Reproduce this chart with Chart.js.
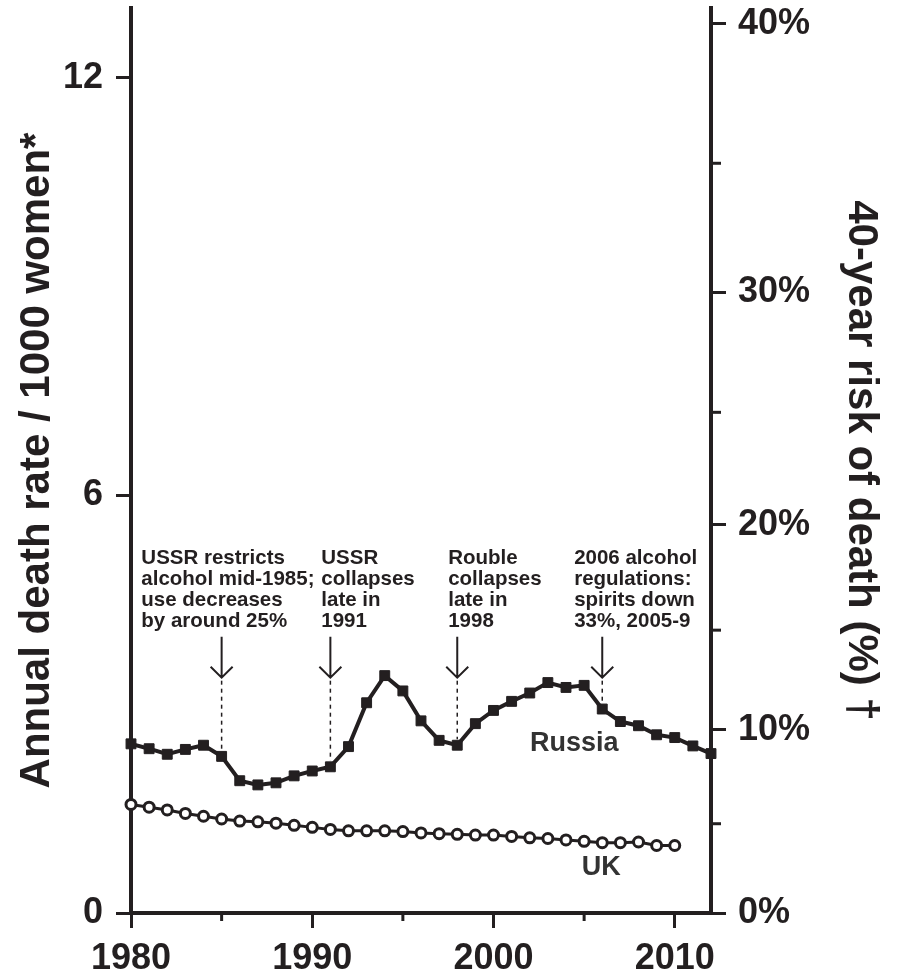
<!DOCTYPE html>
<html>
<head>
<meta charset="utf-8">
<script src="https://cdn.jsdelivr.net/npm/chart.js@4.4.0/dist/chart.umd.min.js"></script>
<style>
  html, body { margin: 0; padding: 0; background: #fff; }
  #wrap { width: 902px; height: 975px; }
</style>
</head>
<body>
<div id="wrap"><canvas id="chart" width="902" height="975"></canvas></div>
<script>
// annual death rate per 1000 women
const years = [1980, 1981, 1982, 1983, 1984, 1985, 1986, 1987, 1988, 1989,
  1990, 1991, 1992, 1993, 1994, 1995, 1996, 1997, 1998, 1999,
  2000, 2001, 2002, 2003, 2004, 2005, 2006, 2007, 2008, 2009,
  2010, 2011, 2012]
const russia = [2.43, 2.36, 2.28, 2.35, 2.41, 2.25, 1.90, 1.84, 1.87, 1.97,
  2.04, 2.10, 2.39, 3.02, 3.41, 3.19, 2.76, 2.48, 2.41, 2.72,
  2.91, 3.04, 3.16, 3.31, 3.24, 3.27, 2.93, 2.75, 2.69, 2.56,
  2.52, 2.40, 2.29]
const uk = [1.56, 1.52, 1.48, 1.43, 1.39, 1.35, 1.32, 1.31, 1.29, 1.26,
  1.23, 1.20, 1.18, 1.18, 1.18, 1.17, 1.15, 1.14, 1.13, 1.12,
  1.12, 1.10, 1.08, 1.07, 1.05, 1.03, 1.01, 1.01, 1.02, 0.97,
  0.97]

const rateTicks = [0, 6, 12]
const yearTicks = [1980, 1990, 2000, 2010]
const yearMinorTicks = [1985, 1995, 2005]
const riskTicks = [0, 10, 20, 30, 40]
const riskMinorTicks = [5, 15, 25, 35]

const eventYears = [1985, 1991, 1998, 2006]
const eventNotes = [
  ['USSR restricts', 'alcohol mid-1985;', 'use decreases', 'by around 25%'],
  ['USSR', 'collapses', 'late in', '1991'],
  ['Rouble', 'collapses', 'late in', '1998'],
  ['2006 alcohol', 'regulations:', 'spirits down', '33%, 2005-9'],
]

// layout bits (in axis units)
const noteX = [1980.57, 1990.5, 1997.5, 2004.45]
const noteTop = 5.09
const arrowTop = 3.97
const arrowTip = 3.38

const ink = '#231f20'
const fontFamily = '"Liberation Sans", Arial, sans-serif'

// 40-year risk (%) -> annual rate per 1000
const riskToRate = p => -1000 * Math.log(1 - p / 100) / 40

const annotations = {
  id: 'annotations',
  afterDraw(chart) {
    const ctx = chart.ctx
    const x = chart.scales.x
    const y = chart.scales.y
    const bottom = chart.chartArea.bottom
    const right = chart.chartArea.right
    ctx.save()
    ctx.strokeStyle = ink
    ctx.fillStyle = ink

    // minor ticks
    ctx.lineWidth = 3
    yearMinorTicks.forEach(yr => {
      const px = x.getPixelForValue(yr)
      ctx.beginPath()
      ctx.moveTo(px, bottom)
      ctx.lineTo(px, bottom + 8)
      ctx.stroke()
    })
    riskMinorTicks.forEach(p => {
      const py = y.getPixelForValue(riskToRate(p))
      ctx.beginPath()
      ctx.moveTo(right, py)
      ctx.lineTo(right + 10, py)
      ctx.stroke()
    })

    // event arrows + dashed drop lines
    eventYears.forEach((yr, i) => {
      const px = x.getPixelForValue(yr)
      const top = y.getPixelForValue(arrowTop)
      const tip = y.getPixelForValue(arrowTip)
      const pt = y.getPixelForValue(russia[years.indexOf(yr)])
      ctx.lineWidth = 2
      ctx.setLineDash([])
      ctx.beginPath()
      ctx.moveTo(px, top)
      ctx.lineTo(px, tip)
      ctx.moveTo(px - 11, tip - 11)
      ctx.lineTo(px, tip)
      ctx.lineTo(px + 11, tip - 11)
      ctx.stroke()

      ctx.lineWidth = 1.5
      ctx.setLineDash([4, 4])
      ctx.beginPath()
      ctx.moveTo(px, tip + 3)
      ctx.lineTo(px, pt - 6)
      ctx.stroke()
      ctx.setLineDash([])

      ctx.font = 'bold 20.5px ' + fontFamily
      ctx.textAlign = 'left'
      ctx.textBaseline = 'middle'
      const tx = x.getPixelForValue(noteX[i])
      const ty = y.getPixelForValue(noteTop)
      eventNotes[i].forEach((line, j) => {
        ctx.fillText(line, tx, ty + j * 21)
      })
    })

    // series labels
    ctx.font = 'bold 27px ' + fontFamily
    ctx.textAlign = 'center'
    ctx.textBaseline = 'middle'
    ctx.fillStyle = '#333'
    ctx.fillText('Russia', x.getPixelForValue(2004.45), y.getPixelForValue(2.44))
    ctx.fillText('UK', x.getPixelForValue(2005.95), y.getPixelForValue(0.65))
    ctx.restore()
  },
}

const tickFont = { family: fontFamily, size: 36, weight: 'bold' }
const titleFont = { family: fontFamily, size: 42, weight: 'bold' }

// fixed box sizes so the plot area sits where the original has it
const fixBox = (w, h) => scale => {
  if (w) scale.width = w
  if (h) scale.height = h
  scale.paddingTop = 0
  scale.paddingBottom = 0
}

new Chart(document.getElementById('chart'), {
  type: 'line',
  data: {
    datasets: [
      {
        label: 'Russia',
        data: russia.map((v, i) => ({ x: years[i], y: v })),
        borderColor: ink,
        backgroundColor: ink,
        borderWidth: 4,
        pointStyle: 'rect',
        pointRadius: 7,
        pointBorderWidth: 1,
        tension: 0,
        clip: false,
      },
      {
        label: 'UK',
        data: uk.map((v, i) => ({ x: years[i], y: v })),
        borderColor: ink,
        backgroundColor: '#fff',
        borderWidth: 3,
        pointStyle: 'circle',
        pointRadius: 5,
        pointBorderWidth: 3,
        tension: 0,
        clip: false,
      },
    ],
  },
  options: {
    responsive: false,
    animation: false,
    layout: { padding: { top: 7 } },
    plugins: {
      legend: { display: false },
      tooltip: { enabled: false },
    },
    scales: {
      x: {
        type: 'linear',
        min: 1980,
        max: 2012,
        afterBuildTicks: scale => {
          scale.ticks = yearTicks.map(v => ({ value: v }))
        },
        afterFit: fixBox(0, 62),
        border: { display: true, width: 4, color: ink },
        grid: { drawOnChartArea: false, drawTicks: true, tickLength: 15, lineWidth: 3, color: ink },
        ticks: { color: ink, font: tickFont, padding: 9, maxRotation: 0, callback: v => String(v) },
      },
      y: {
        position: 'left',
        min: 0,
        max: 13,
        afterBuildTicks: scale => {
          scale.ticks = rateTicks.map(v => ({ value: v }))
        },
        afterFit: fixBox(131, 0),
        border: { display: true, width: 4, color: ink },
        grid: { drawOnChartArea: false, drawTicks: true, tickLength: 15, lineWidth: 3, color: ink },
        ticks: { color: ink, font: tickFont, padding: 13 },
        title: {
          display: true,
          text: 'Annual death rate / 1000 women*',
          color: ink,
          font: titleFont,
          padding: { top: 12, bottom: 0 },
        },
      },
      y2: {
        position: 'right',
        min: 0,
        max: 13,
        afterBuildTicks: scale => {
          scale.ticks = riskTicks.map(p => ({ value: riskToRate(p) }))
        },
        afterFit: fixBox(191, 0),
        border: { display: true, width: 4, color: ink },
        grid: { drawOnChartArea: false, drawTicks: true, tickLength: 15, lineWidth: 3, color: ink },
        ticks: {
          color: ink,
          font: tickFont,
          padding: 12,
          callback: (value, index) => riskTicks[index] + '%',
        },
        title: {
          display: true,
          text: '40-year risk of death (%) \u2020',
          color: ink,
          font: titleFont,
          padding: { top: 16, bottom: 0 },
        },
      },
    },
  },
  plugins: [annotations],
})
</script>
</body>
</html>
